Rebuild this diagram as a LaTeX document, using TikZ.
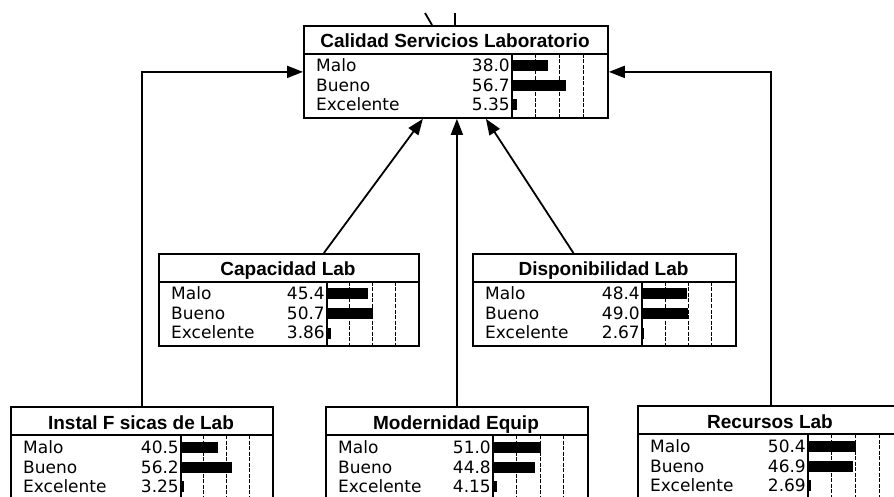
\documentclass[tikz,border=0pt]{standalone}
\usepackage{fontspec}
\usepackage{tikz}
\usetikzlibrary{arrows.meta, positioning, calc}
\newfontfamily\rowfont{DejaVu Sans}
\newfontfamily\headfont{Liberation Sans}

% belief box: name, left, top, width, bar width, title, Malo, Bueno, Excelente
\newcommand{\beliefnode}[9]{%
  \begin{scope}[shift={(#2,#3)}]
    \node[bnframe, minimum width=#4bp, anchor=north west] (#1) at (0,0) {};
    \node[bntitle, anchor=base] (#1-title) at ({#4/2},23) {#6};
    \draw[bnline] (0,29) -- (#4,29);
    \draw[bnline] ({#4-#5},29) -- ({#4-#5},92);
    \foreach \k in {1,2,3}
      \draw[bngrid] ({#4-#5+\k*#5/4},29) -- ({#4-#5+\k*#5/4},92);
    \foreach \lab/\val/\yy in {Malo/#7/41, Bueno/#8/61, Excelente/#9/80} {
      \node[bnrow, anchor=base west] at ({13},{\yy+6}) {\lab};
      \node[bnrow, anchor=base east] at ({#4-#5-2},{\yy+6}) {\val};
      \fill ({#4-#5},{\yy-5.5}) rectangle ({#4-#5+\val*#5/100},{\yy+5.5});
    }
  \end{scope}}

\begin{document}
\begin{tikzpicture}[x=1bp, y=-1bp,
    bnframe/.style={draw, line width=1.8bp, inner sep=0pt, minimum height=92bp},
    bnline/.style={line width=1.8bp},
    bngrid/.style={line width=0.8bp, dash pattern=on 4bp off 1.5bp},
    bntitle/.style={inner sep=0pt, font=\headfont\bfseries\fontsize{19bp}{22bp}\selectfont},
    bnrow/.style={inner sep=0pt, font=\rowfont\fontsize{17bp}{20bp}\selectfont},
    conn/.style={-{Triangle[length=16bp, width=12bp]}, line width=1.8bp}]
    \useasboundingbox (0,0) rectangle (894,497);
    \clip (0,0) rectangle (894,497);

    % Target
    \beliefnode{cal}{303}{25}{304}{95}{Calidad Servicios Laboratorio}{38.0}{56.7}{5.35}

    % Middle layer
    \beliefnode{cap}{158}{253}{260}{91}{Capacidad Lab}{45.4}{50.7}{3.86}
    \beliefnode{disp}{472}{253}{263}{93}{Disponibilidad Lab}{48.4}{49.0}{2.67}

    % Bottom layer
    \beliefnode{inst}{10}{406}{262}{91}{Instal F sicas de Lab}{40.5}{56.2}{3.25}
    \beliefnode{mod}{325}{406}{262}{94}{Modernidad Equip}{51.0}{44.8}{4.15}
    \beliefnode{rec}{637}{405}{266}{95}{Recursos Lab}{50.4}{46.9}{2.69}

    % Links leaving the picture
    \coordinate (out1) at (425,13);
    \coordinate (out2) at (455,13);
    \draw[bnline] (out1) -- ([xshift=7bp]out1 |- cal.north);
    \draw[bnline] (out2) -- (out2 |- cal.north);

    % Arrows
    \draw[conn] (inst.north) |- (cal.west);
    \draw[conn] (rec.north) |- (cal.east);
    \draw[conn] (mod.north) -- (mod.north |- cal.south);
    \draw[conn] ([xshift=35bp]cap.north) -- ([xshift=-33bp]cal.south);
    \draw[conn] ([xshift=-31bp]disp.north) -- ([xshift=30bp]cal.south);
\end{tikzpicture}
\end{document}
